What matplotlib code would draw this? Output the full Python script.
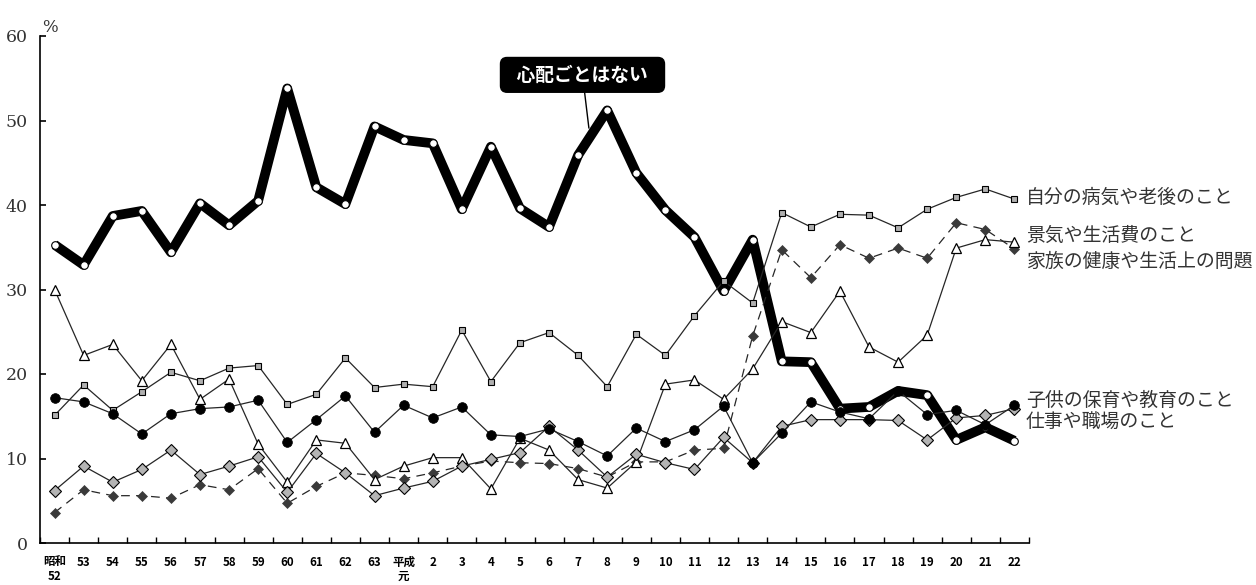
import matplotlib
matplotlib.use("Agg")
import matplotlib.pyplot as plt
import numpy as np

# Survey years (Showa 52 .. Heisei 22)
years = ['昭和\n52', '53', '54', '55', '56', '57', '58', '59', '60', '61', '62', '63',
         '平成\n元', '2', '3', '4', '5', '6', '7', '8', '9', '10', '11', '12', '13',
         '14', '15', '16', '17', '18', '19', '20', '21', '22']

# Share of respondents (%) by type of worry
no_worry = [35.3, 32.9, 38.7, 39.3, 34.4, 40.2, 37.6, 40.5, 53.8, 42.1, 40.1, 49.3,
            47.7, 47.3, 39.5, 46.9, 39.6, 37.4, 45.9, 51.2, 43.8, 39.4, 36.2, 29.8,
            35.9, 21.5, 21.4, 15.9, 16.1, 18.0, 17.5, 12.2, 13.7, 12.1]
own_health = [15.1, 18.7, 15.7, 17.9, 20.2, 19.2, 20.7, 21.0, 16.4, 17.6, 21.9, 18.4,
              18.8, 18.5, 25.2, 19.1, 23.7, 24.9, 22.2, 18.5, 24.7, 22.2, 26.9, 31.0,
              28.4, 39.1, 37.4, 38.9, 38.8, 37.3, 39.5, 40.9, 41.9, 40.7]
economy = [3.6, 6.3, 5.6, 5.6, 5.3, 6.9, 6.3, 8.8, 4.7, 6.7, 8.3, 8.0,
           7.6, 8.3, 9.1, 9.7, 9.5, 9.4, 8.8, 7.8, 9.6, 9.6, 11.0, 11.2,
           24.5, 34.7, 31.4, 35.3, 33.7, 34.9, 33.7, 37.9, 37.1, 34.8]
family = [30.0, 22.2, 23.5, 19.2, 23.5, 17.0, 19.4, 11.7, 7.2, 12.2, 11.8, 7.5,
          9.1, 10.1, 10.1, 6.4, 12.4, 11.0, 7.5, 6.5, 9.6, 18.8, 19.3, 17.0,
          20.6, 26.2, 24.9, 29.8, 23.2, 21.4, 24.6, 34.9, 35.9, 35.6]
children = [17.2, 16.7, 15.3, 12.9, 15.3, 15.9, 16.1, 16.9, 11.9, 14.6, 17.4, 13.1,
            16.3, 14.8, 16.1, 12.8, 12.6, 13.5, 12.0, 10.3, 13.6, 12.0, 13.4, 16.2,
            9.5, 13.0, 16.7, 15.5, 14.7, 18.0, 15.2, 15.7, 14.0, 16.3]
work = [6.2, 9.1, 7.2, 8.7, 11.0, 8.1, 9.1, 10.2, 6.0, 10.6, 8.3, 5.6,
        6.5, 7.3, 9.1, 9.9, 10.7, 13.8, 11.0, 7.8, 10.5, 9.5, 8.7, 12.5,
        9.5, 13.8, 14.6, 14.6, 14.6, 14.5, 12.2, 14.8, 15.1, 15.9]

series_labels = {
    'own_health': '自分の病気や老後のこと',
    'economy': '景気や生活費のこと',
    'family': '家族の健康や生活上の問題',
    'children': '子供の保育や教育のこと',
    'work': '仕事や職場のこと',
}
callout_text = '心配ごとはない'

JP = ['Noto Sans CJK JP', 'DejaVu Sans']
SERIF = ['DejaVu Serif']

fig = plt.figure(figsize=(12.56, 5.85), dpi=100)
ax = fig.add_axes([40 / 1256, 42 / 585, 989 / 1256, 507 / 585])

x = np.arange(len(years))
line_col = '#262626'

# Thick "no worries" line at the bottom of the stack
ax.plot(x, no_worry, color='black', lw=7, solid_joinstyle='round',
        solid_capstyle='butt', zorder=2,
        marker='o', ms=5.5, mfc='white', mec='black', mew=0.8)

ax.plot(x, economy, color=line_col, lw=0.9, ls=(0, (7, 5)), zorder=3,
        marker='D', ms=5, mfc='#3a3a3a', mec='#3a3a3a', mew=0.5)
ax.plot(x, family, color=line_col, lw=0.9, zorder=4,
        marker='^', ms=7, mfc='white', mec='black', mew=0.9)
ax.plot(x, own_health, color=line_col, lw=0.9, zorder=5,
        marker='s', ms=5, mfc='#b0b0b0', mec='black', mew=0.8)
ax.plot(x, work, color=line_col, lw=0.9, zorder=6,
        marker='D', ms=6.5, mfc='#b4b4b4', mec='black', mew=0.8)
ax.plot(x, children, color=line_col, lw=0.9, zorder=7,
        marker='o', ms=7, mfc='black', mec='black', mew=0.5)

ax.set_xlim(-0.5, len(years) - 0.5)
ax.set_ylim(0, 60)

for side in ('top', 'right'):
    ax.spines[side].set_visible(False)
ax.spines['left'].set_linewidth(1.2)
ax.spines['bottom'].set_linewidth(1.2)

ax.set_yticks(np.arange(0, 61, 10))
ax.tick_params(axis='y', direction='in', length=4, width=1.2, pad=9)
for lab in ax.get_yticklabels():
    lab.set_fontfamily(SERIF)
    lab.set_fontsize(12.5)
    lab.set_color('#333333')

ax.set_xticks(x)
ax.set_xticklabels(years, fontfamily=JP, fontweight='bold', fontsize=8.3,
                   linespacing=1.1)
ax.tick_params(axis='x', which='major', length=0, pad=9)
ax.set_xticks(np.arange(-0.5, len(years)), minor=True)
ax.tick_params(axis='x', which='minor', direction='in', length=4, width=1.0)

ax.text(0.002, 1.0, '%', transform=ax.transAxes, fontsize=12,
        fontfamily=SERIF, ha='left', va='bottom', color='#333333')

# Series names to the right of the plot
label_pos = [('own_health', 40.9), ('economy', 36.4), ('family', 33.3),
             ('children', 16.9), ('work', 14.3)]
for key, yv in label_pos:
    ax.text(0.997, yv, series_labels[key], transform=ax.get_yaxis_transform(),
            fontfamily=JP, fontsize=13.6, ha='left', va='center',
            color='#333333', clip_on=False)

# Callout for the thick line
ax.annotate('  ' + callout_text + '  ', xy=(18.37, 49.1), xytext=(18.15, 55.4),
            textcoords='data', ha='center', va='center',
            fontfamily=JP, fontweight='bold', fontsize=13.5, color='white',
            bbox=dict(boxstyle='round,pad=0.42,rounding_size=0.35',
                      fc='black', ec='black'),
            arrowprops=dict(arrowstyle='-', color='black', lw=1,
                            shrinkA=0, shrinkB=0),
            zorder=10)

fig.savefig('out.png', dpi=100)
